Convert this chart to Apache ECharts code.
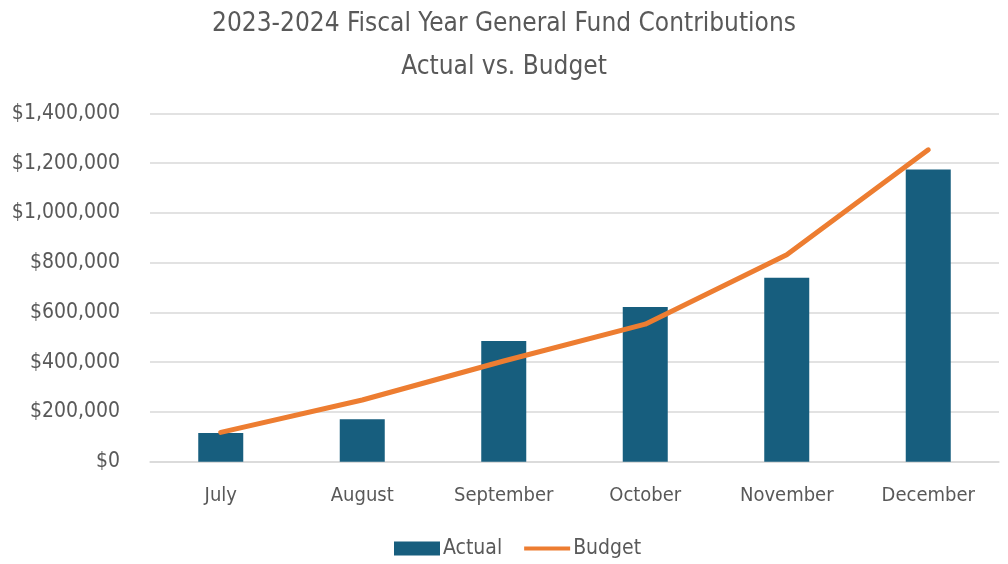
<!DOCTYPE html>
<html>
<head>
<meta charset="utf-8">
<script src="https://cdn.jsdelivr.net/npm/echarts@6/dist/echarts.min.js"></script>
<style>
html,body{margin:0;padding:0;background:#fff;}
#c{width:1008px;height:564px;}
</style>
</head>
<body>
<div id="c"></div>
<script>
const categories = ['July','August','September','October','November','December'];
const actual = [115000, 171000, 485000, 622000, 740000, 1175000];
const budget = [118000, 248000, 405000, 553000, 832000, 1254000];
const yTicks = {min: 0, max: 1400000, interval: 200000};

const FONT = '"DejaVu Sans Condensed","Liberation Sans Narrow",sans-serif';
const TXT = '#595959';

const chart = echarts.init(document.getElementById('c'), null, {renderer: 'canvas'});
chart.setOption({
  backgroundColor: '#fff',
  animation: false,
  title: {
    text: '2023-2024 Fiscal Year General Fund Contributions\nActual vs. Budget',
    left: 'center',
    top: 3,
    padding: [0, 0, 0, 14],
    textStyle: {fontFamily: FONT, fontSize: 26, fontWeight: 'normal', color: TXT, lineHeight: 43}
  },
  legend: {
    bottom: 0,
    left: 389,
    itemWidth: 46,
    itemHeight: 14,
    itemGap: 22,
    textStyle: {fontFamily: FONT, fontSize: 21, color: TXT, padding: [0,0,0,-2]},
    data: [
      {name: 'Actual', icon: 'rect'},
      {name: 'Budget', icon: 'path://M0,0L0,0M0,5L46,5L46,9L0,9ZM0,14L0,14'}
    ]
  },
  grid: {left: 150, right: 9, top: 113.5, bottom: 102.3, containLabel: false},
  xAxis: {
    type: 'category',
    data: categories,
    axisLine: {show: true, lineStyle: {color: '#d9d9d9', width: 1.5}},
    axisTick: {show: false},
    axisLabel: {fontFamily: FONT, fontSize: 20, color: TXT, margin: 24, interval: 0}
  },
  yAxis: {
    type: 'value',
    min: yTicks.min, max: yTicks.max, interval: yTicks.interval,
    axisLine: {show: false},
    axisTick: {show: false},
    splitLine: {lineStyle: {color: '#d9d9d9', width: 1.5}},
    axisLabel: {
      fontFamily: FONT, fontSize: 21, color: TXT, margin: 30,
      formatter: v => '$' + v.toLocaleString('en-US')
    }
  },
  series: [
    {
      name: 'Actual', type: 'bar', data: actual, barWidth: 45,
      itemStyle: {color: '#175e7e'}
    },
    {
      name: 'Budget', type: 'line', data: budget, symbol: 'none',
      lineStyle: {color: '#ed7d31', width: 5, cap: 'round'},
      itemStyle: {color: '#ed7d31'}
    }
  ]
});
</script>
</body>
</html>
